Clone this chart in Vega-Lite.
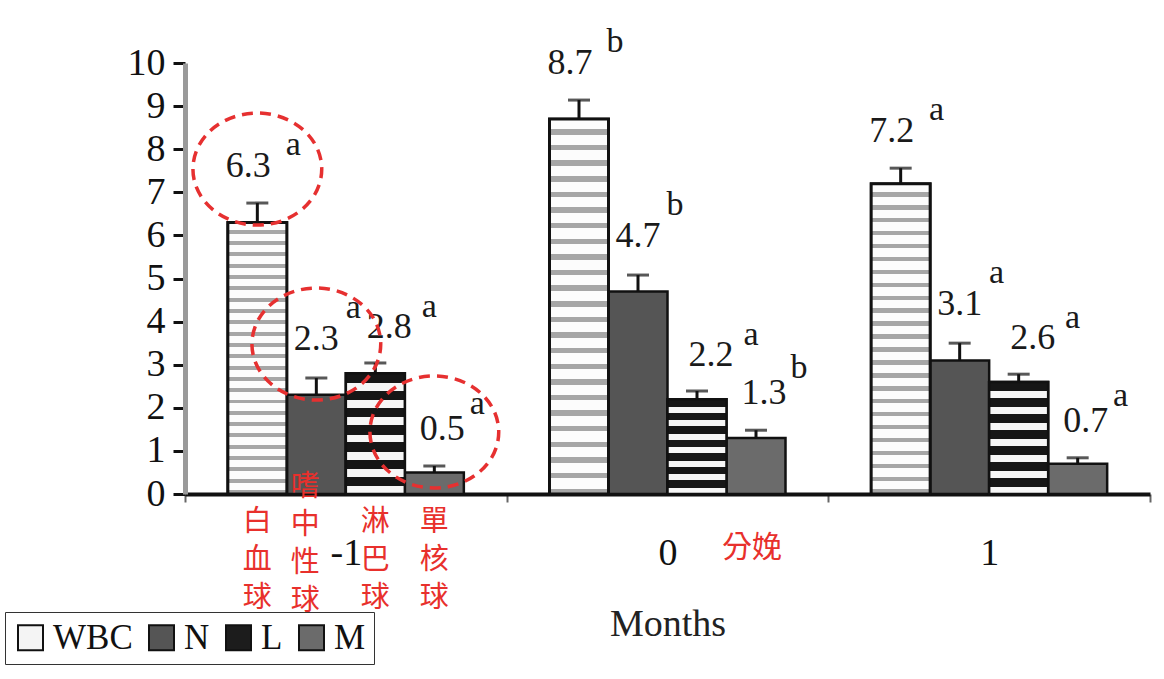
{
  "$schema": "https://vega.github.io/schema/vega-lite/v6.json",
  "width": 965,
  "height": 431,
  "autosize": {"type": "none"},
  "padding": {"left": 185, "top": 63, "right": 14, "bottom": 185},
  "background": "white",
  "config": {"view": {"stroke": null}, "font": "Liberation Serif"},
  "datasets": {
    "cells": [
      {"group": "-1", "cell": "WBC", "value": 6.3, "upper": 6.75, "sig": "a"},
      {"group": "-1", "cell": "N", "value": 2.3, "upper": 2.69, "sig": "a"},
      {"group": "-1", "cell": "L", "value": 2.8, "upper": 3.04, "sig": "a"},
      {"group": "-1", "cell": "M", "value": 0.5, "upper": 0.65, "sig": "a"},
      {"group": "0", "cell": "WBC", "value": 8.7, "upper": 9.14, "sig": "b"},
      {"group": "0", "cell": "N", "value": 4.7, "upper": 5.08, "sig": "b"},
      {"group": "0", "cell": "L", "value": 2.2, "upper": 2.39, "sig": "a"},
      {"group": "0", "cell": "M", "value": 1.3, "upper": 1.48, "sig": "b"},
      {"group": "1", "cell": "WBC", "value": 7.2, "upper": 7.56, "sig": "a"},
      {"group": "1", "cell": "N", "value": 3.1, "upper": 3.5, "sig": "a"},
      {"group": "1", "cell": "L", "value": 2.6, "upper": 2.78, "sig": "a"},
      {"group": "1", "cell": "M", "value": 0.7, "upper": 0.84, "sig": "a"}
    ],
    "notes": [
      {"group": "-1", "cell": "WBC", "zh": "白\n血\n球"},
      {"group": "-1", "cell": "N", "zh": "嗜\n中\n性\n球"},
      {"group": "-1", "cell": "L", "zh": "淋\n巴\n球"},
      {"group": "-1", "cell": "M", "zh": "單\n核\n球"}
    ],
    "delivery": [
      {"group": "0", "cell": "M", "zh": "分娩"}
    ]
  },
  "data": {"name": "cells"},
  "encoding": {
    "x": {
      "field": "group",
      "type": "nominal",
      "scale": {"domain": ["-1", "0", "1"], "paddingInner": 0, "paddingOuter": 0},
      "axis": {
        "title": "Months",
        "titleFont": "Liberation Serif",
        "titleFontSize": 38,
        "titleFontWeight": "normal",
        "titleColor": "#222",
        "titlePadding": 33,
        "labelAngle": 0,
        "labelFont": "Liberation Serif",
        "labelFontSize": 38,
        "labelColor": "#111",
        "labelPadding": 32,
        "domainColor": "#111",
        "domainWidth": 4,
        "tickColor": "#666",
        "tickWidth": 2,
        "tickSize": 8,
        "tickBand": "extent",
        "grid": false
      }
    },
    "xOffset": {
      "field": "cell",
      "type": "nominal",
      "scale": {"domain": ["WBC", "N", "L", "M"], "paddingInner": 0, "paddingOuter": 0.726}
    }
  },
  "layer": [
    {
      "mark": {"type": "bar", "stroke": "#111", "strokeWidth": 2.5},
      "encoding": {
        "y": {
          "field": "value",
          "type": "quantitative",
          "scale": {"domain": [0, 10], "nice": false},
          "axis": {
            "title": null,
            "values": [0, 1, 2, 3, 4, 5, 6, 7, 8, 9, 10],
            "labelFont": "Liberation Serif",
            "labelFontSize": 38,
            "labelColor": "#111",
            "labelPadding": 8,
            "domainColor": "#9a9a9a",
            "domainWidth": 5,
            "tickColor": "#111",
            "tickWidth": 3,
            "tickSize": 12,
            "grid": false
          }
        },
        "color": {
          "field": "cell",
          "type": "nominal",
          "scale": {"domain": ["WBC", "N", "L", "M"], "range": ["#f4f4f4", "#555555", "#1c1c1c", "#6b6b6b"]},
          "legend": {
            "orient": "none",
            "legendX": -180,
            "legendY": 549,
            "direction": "horizontal",
            "title": null,
            "symbolType": "square",
            "symbolSize": 625,
            "symbolStrokeColor": "#111",
            "symbolStrokeWidth": 2,
            "labelFont": "Liberation Serif",
            "labelFontSize": 35,
            "labelColor": "#111",
            "labelOffset": 5,
            "labelLimit": 200,
            "columnPadding": 11,
            "padding": 8,
            "strokeColor": "#333",
            "fillColor": "white"
          }
        }
      }
    },
    {
      "transform": [{"filter": "datum.cell === 'WBC'"}],
      "mark": {
        "type": "bar",
        "stroke": "#111",
        "strokeWidth": 3,
        "fill": {
          "gradient": "linear", "x1": 0, "y1": 0, "x2": 0, "y2": 1,
          "stops": [
            {"offset": 0, "color": "#fcfcfc"}, {"offset": 0.0271, "color": "#fcfcfc"}, {"offset": 0.0271, "color": "#a6a6a6"}, {"offset": 0.0417, "color": "#a6a6a6"},
            {"offset": 0.0417, "color": "#fcfcfc"}, {"offset": 0.0688, "color": "#fcfcfc"}, {"offset": 0.0688, "color": "#a6a6a6"}, {"offset": 0.0833, "color": "#a6a6a6"},
            {"offset": 0.0833, "color": "#fcfcfc"}, {"offset": 0.1104, "color": "#fcfcfc"}, {"offset": 0.1104, "color": "#a6a6a6"}, {"offset": 0.125, "color": "#a6a6a6"},
            {"offset": 0.125, "color": "#fcfcfc"}, {"offset": 0.1521, "color": "#fcfcfc"}, {"offset": 0.1521, "color": "#a6a6a6"}, {"offset": 0.1667, "color": "#a6a6a6"},
            {"offset": 0.1667, "color": "#fcfcfc"}, {"offset": 0.1938, "color": "#fcfcfc"}, {"offset": 0.1938, "color": "#a6a6a6"}, {"offset": 0.2083, "color": "#a6a6a6"},
            {"offset": 0.2083, "color": "#fcfcfc"}, {"offset": 0.2354, "color": "#fcfcfc"}, {"offset": 0.2354, "color": "#a6a6a6"}, {"offset": 0.25, "color": "#a6a6a6"},
            {"offset": 0.25, "color": "#fcfcfc"}, {"offset": 0.2771, "color": "#fcfcfc"}, {"offset": 0.2771, "color": "#a6a6a6"}, {"offset": 0.2917, "color": "#a6a6a6"},
            {"offset": 0.2917, "color": "#fcfcfc"}, {"offset": 0.3188, "color": "#fcfcfc"}, {"offset": 0.3188, "color": "#a6a6a6"}, {"offset": 0.3333, "color": "#a6a6a6"},
            {"offset": 0.3333, "color": "#fcfcfc"}, {"offset": 0.3604, "color": "#fcfcfc"}, {"offset": 0.3604, "color": "#a6a6a6"}, {"offset": 0.375, "color": "#a6a6a6"},
            {"offset": 0.375, "color": "#fcfcfc"}, {"offset": 0.4021, "color": "#fcfcfc"}, {"offset": 0.4021, "color": "#a6a6a6"}, {"offset": 0.4167, "color": "#a6a6a6"},
            {"offset": 0.4167, "color": "#fcfcfc"}, {"offset": 0.4438, "color": "#fcfcfc"}, {"offset": 0.4438, "color": "#a6a6a6"}, {"offset": 0.4583, "color": "#a6a6a6"},
            {"offset": 0.4583, "color": "#fcfcfc"}, {"offset": 0.4854, "color": "#fcfcfc"}, {"offset": 0.4854, "color": "#a6a6a6"}, {"offset": 0.5, "color": "#a6a6a6"},
            {"offset": 0.5, "color": "#fcfcfc"}, {"offset": 0.5271, "color": "#fcfcfc"}, {"offset": 0.5271, "color": "#a6a6a6"}, {"offset": 0.5417, "color": "#a6a6a6"},
            {"offset": 0.5417, "color": "#fcfcfc"}, {"offset": 0.5688, "color": "#fcfcfc"}, {"offset": 0.5688, "color": "#a6a6a6"}, {"offset": 0.5833, "color": "#a6a6a6"},
            {"offset": 0.5833, "color": "#fcfcfc"}, {"offset": 0.6104, "color": "#fcfcfc"}, {"offset": 0.6104, "color": "#a6a6a6"}, {"offset": 0.625, "color": "#a6a6a6"},
            {"offset": 0.625, "color": "#fcfcfc"}, {"offset": 0.6521, "color": "#fcfcfc"}, {"offset": 0.6521, "color": "#a6a6a6"}, {"offset": 0.6667, "color": "#a6a6a6"},
            {"offset": 0.6667, "color": "#fcfcfc"}, {"offset": 0.6938, "color": "#fcfcfc"}, {"offset": 0.6938, "color": "#a6a6a6"}, {"offset": 0.7083, "color": "#a6a6a6"},
            {"offset": 0.7083, "color": "#fcfcfc"}, {"offset": 0.7354, "color": "#fcfcfc"}, {"offset": 0.7354, "color": "#a6a6a6"}, {"offset": 0.75, "color": "#a6a6a6"},
            {"offset": 0.75, "color": "#fcfcfc"}, {"offset": 0.7771, "color": "#fcfcfc"}, {"offset": 0.7771, "color": "#a6a6a6"}, {"offset": 0.7917, "color": "#a6a6a6"},
            {"offset": 0.7917, "color": "#fcfcfc"}, {"offset": 0.8188, "color": "#fcfcfc"}, {"offset": 0.8188, "color": "#a6a6a6"}, {"offset": 0.8333, "color": "#a6a6a6"},
            {"offset": 0.8333, "color": "#fcfcfc"}, {"offset": 0.8604, "color": "#fcfcfc"}, {"offset": 0.8604, "color": "#a6a6a6"}, {"offset": 0.875, "color": "#a6a6a6"},
            {"offset": 0.875, "color": "#fcfcfc"}, {"offset": 0.9021, "color": "#fcfcfc"}, {"offset": 0.9021, "color": "#a6a6a6"}, {"offset": 0.9167, "color": "#a6a6a6"},
            {"offset": 0.9167, "color": "#fcfcfc"}, {"offset": 0.9438, "color": "#fcfcfc"}, {"offset": 0.9438, "color": "#a6a6a6"}, {"offset": 0.9583, "color": "#a6a6a6"},
            {"offset": 0.9583, "color": "#fcfcfc"}, {"offset": 0.9854, "color": "#fcfcfc"}, {"offset": 0.9854, "color": "#a6a6a6"}, {"offset": 1, "color": "#a6a6a6"}
          ]
        }
      },
      "encoding": {"y": {"field": "value", "type": "quantitative"}}
    },
    {
      "transform": [{"filter": "datum.cell === 'L'"}],
      "mark": {
        "type": "bar",
        "stroke": "#111",
        "strokeWidth": 2.5,
        "fill": {
          "gradient": "linear", "x1": 0, "y1": 0, "x2": 0, "y2": 1,
          "stops": [
            {"offset": 0, "color": "#161616"}, {"offset": 0.0786, "color": "#161616"}, {"offset": 0.0786, "color": "#f6f6f6"}, {"offset": 0.1429, "color": "#f6f6f6"},
            {"offset": 0.1429, "color": "#161616"}, {"offset": 0.2214, "color": "#161616"}, {"offset": 0.2214, "color": "#f6f6f6"}, {"offset": 0.2857, "color": "#f6f6f6"},
            {"offset": 0.2857, "color": "#161616"}, {"offset": 0.3643, "color": "#161616"}, {"offset": 0.3643, "color": "#f6f6f6"}, {"offset": 0.4286, "color": "#f6f6f6"},
            {"offset": 0.4286, "color": "#161616"}, {"offset": 0.5071, "color": "#161616"}, {"offset": 0.5071, "color": "#f6f6f6"}, {"offset": 0.5714, "color": "#f6f6f6"},
            {"offset": 0.5714, "color": "#161616"}, {"offset": 0.65, "color": "#161616"}, {"offset": 0.65, "color": "#f6f6f6"}, {"offset": 0.7143, "color": "#f6f6f6"},
            {"offset": 0.7143, "color": "#161616"}, {"offset": 0.7929, "color": "#161616"}, {"offset": 0.7929, "color": "#f6f6f6"}, {"offset": 0.8571, "color": "#f6f6f6"},
            {"offset": 0.8571, "color": "#161616"}, {"offset": 0.9357, "color": "#161616"}, {"offset": 0.9357, "color": "#f6f6f6"}, {"offset": 1, "color": "#f6f6f6"}
          ]
        }
      },
      "encoding": {"y": {"field": "value", "type": "quantitative"}}
    },
    {
      "mark": {"type": "rule", "color": "#111", "strokeWidth": 3},
      "encoding": {
        "y": {"field": "value", "type": "quantitative"},
        "y2": {"field": "upper"}
      }
    },
    {
      "mark": {"type": "tick", "color": "#111", "size": 22, "thickness": 3},
      "encoding": {"y": {"field": "upper", "type": "quantitative"}}
    },
    {
      "transform": [{"filter": "datum.cell === 'WBC'"}],
      "mark": {"type": "text", "dx": -9, "dy": -37, "fontSize": 36, "font": "Liberation Serif", "color": "#1a1a1a", "baseline": "middle", "align": "center"},
      "encoding": {
        "y": {"field": "upper", "type": "quantitative"},
        "text": {"field": "value", "type": "quantitative", "format": ".1f"}
      }
    },
    {
      "transform": [{"filter": "datum.cell === 'N'"}],
      "mark": {"type": "text", "dx": 0, "dy": -39, "fontSize": 36, "font": "Liberation Serif", "color": "#1a1a1a", "baseline": "middle", "align": "center"},
      "encoding": {
        "y": {"field": "upper", "type": "quantitative"},
        "text": {"field": "value", "type": "quantitative", "format": ".1f"}
      }
    },
    {
      "transform": [{"filter": "datum.cell === 'L'"}],
      "mark": {"type": "text", "dx": 14, "dy": -36, "fontSize": 36, "font": "Liberation Serif", "color": "#1a1a1a", "baseline": "middle", "align": "center"},
      "encoding": {
        "y": {"field": "upper", "type": "quantitative"},
        "text": {"field": "value", "type": "quantitative", "format": ".1f"}
      }
    },
    {
      "transform": [{"filter": "datum.cell === 'M'"}],
      "mark": {"type": "text", "dx": 8, "dy": -37, "fontSize": 36, "font": "Liberation Serif", "color": "#1a1a1a", "baseline": "middle", "align": "center"},
      "encoding": {
        "y": {"field": "upper", "type": "quantitative"},
        "text": {"field": "value", "type": "quantitative", "format": ".1f"}
      }
    },
    {
      "transform": [{"filter": "datum.cell === 'WBC'"}],
      "mark": {"type": "text", "dx": 36, "dy": -58, "fontSize": 34, "font": "Liberation Serif", "color": "#1a1a1a", "baseline": "middle", "align": "center"},
      "encoding": {
        "y": {"field": "upper", "type": "quantitative"},
        "text": {"field": "sig", "type": "nominal"}
      }
    },
    {
      "transform": [{"filter": "datum.cell === 'N'"}],
      "mark": {"type": "text", "dx": 37, "dy": -70, "fontSize": 34, "font": "Liberation Serif", "color": "#1a1a1a", "baseline": "middle", "align": "center"},
      "encoding": {
        "y": {"field": "upper", "type": "quantitative"},
        "text": {"field": "sig", "type": "nominal"}
      }
    },
    {
      "transform": [{"filter": "datum.cell === 'L'"}],
      "mark": {"type": "text", "dx": 54, "dy": -56, "fontSize": 34, "font": "Liberation Serif", "color": "#1a1a1a", "baseline": "middle", "align": "center"},
      "encoding": {
        "y": {"field": "upper", "type": "quantitative"},
        "text": {"field": "sig", "type": "nominal"}
      }
    },
    {
      "transform": [{"filter": "datum.cell === 'M'"}],
      "mark": {"type": "text", "dx": 43, "dy": -62, "fontSize": 34, "font": "Liberation Serif", "color": "#1a1a1a", "baseline": "middle", "align": "center"},
      "encoding": {
        "y": {"field": "upper", "type": "quantitative"},
        "text": {"field": "sig", "type": "nominal"}
      }
    },
    {
      "data": {"name": "notes"},
      "transform": [{"filter": "datum.cell !== 'N'"}],
      "mark": {"type": "text", "lineBreak": "\n", "lineHeight": 38, "font": "Noto Sans CJK TC", "fontSize": 29, "color": "#e8302c", "baseline": "top", "align": "center", "dy": 14},
      "encoding": {
        "y": {"datum": 0, "type": "quantitative"},
        "text": {"field": "zh", "type": "nominal"}
      }
    },
    {
      "data": {"name": "notes"},
      "transform": [{"filter": "datum.cell === 'N'"}],
      "mark": {"type": "text", "lineBreak": "\n", "lineHeight": 38, "font": "Noto Sans CJK TC", "fontSize": 29, "color": "#e8302c", "baseline": "top", "align": "center", "dx": -11, "dy": -21},
      "encoding": {
        "y": {"datum": 0, "type": "quantitative"},
        "text": {"field": "zh", "type": "nominal"}
      }
    },
    {
      "data": {"name": "delivery"},
      "mark": {"type": "text", "font": "Noto Sans CJK TC", "fontSize": 30, "color": "#e8302c", "baseline": "middle", "align": "center", "dx": -4, "dy": 54},
      "encoding": {
        "y": {"datum": 0, "type": "quantitative"},
        "text": {"field": "zh", "type": "nominal"}
      }
    },
    {
      "transform": [{"filter": "datum.group === '-1' && datum.cell !== 'L'"}],
      "mark": {
        "type": "point",
        "shape": "M -1.15,0 A 1.15,1 0 1,0 1.15,0 A 1.15,1 0 1,0 -1.15,0 Z",
        "size": 12544,
        "filled": false,
        "opacity": 1,
        "stroke": "#e63030",
        "strokeWidth": 3.5,
        "strokeDash": [11, 7],
        "yOffset": -34
      },
      "encoding": {"y": {"field": "upper", "type": "quantitative"}}
    }
  ]
}
